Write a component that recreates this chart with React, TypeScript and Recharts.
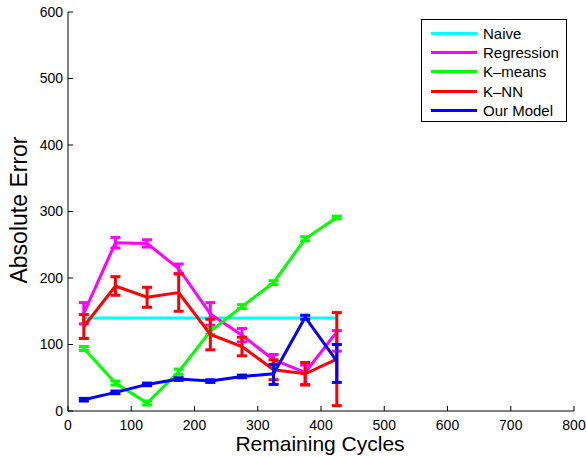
import React from 'react';
import { LineChart, Line, XAxis, YAxis, ErrorBar } from 'recharts';

// remaining cycles at which each method was evaluated
const cycles = [25, 75, 125, 175, 225, 275, 325, 375, 425];

const naive = [140, 140, 140, 140, 140, 140, 140, 140, 140];
const regression = [147, 253, 252, 214, 146, 114, 77, 58, 119];
const regressionErr = [16, 8, 5.5, 7, 17, 10, [7, 8], [18, 11], [29, 2]];
const kmeans = [94, 42, 12, 59, 120, 157, 193, 259, 291];
const kmeansErr = [3, 3, 3, 4, 5, 3, 3, 3, 2];
const knn = [127, 188, 171, 178, 115, 97, 62, 56, 78];
const knnErr = [18, 14, 15, 28, 23, 14, 15, 17, 70];
const model = [17, 28, 40, 48, 45, 52, 56, 141, 75];
const modelErr = [2, 2, 2, 2, 2, 2, [16, 14], 3, [32, 25]];

const xTicks = [0, 100, 200, 300, 400, 500, 600, 700, 800];
const yTicks = [0, 100, 200, 300, 400, 500, 600];

const series = [
  { key: 'naive', name: 'Naive', color: '#00ffff' },
  { key: 'regression', name: 'Regression', color: '#ff00ff', err: 'regressionErr' },
  { key: 'kmeans', name: 'K\u2013means', color: '#00ff00', err: 'kmeansErr' },
  { key: 'knn', name: 'K\u2013NN', color: '#ff0000', err: 'knnErr' },
  { key: 'model', name: 'Our Model', color: '#0000ff', err: 'modelErr' },
];

const data = cycles.map((c, i) => ({
  cycle: c,
  naive: naive[i],
  regression: regression[i],
  regressionErr: regressionErr[i],
  kmeans: kmeans[i],
  kmeansErr: kmeansErr[i],
  knn: knn[i],
  knnErr: knnErr[i],
  model: model[i],
  modelErr: modelErr[i],
}));

const FONT = '"Liberation Sans", Arial, Helvetica, sans-serif';

const BottomTick = ({ x, y, payload }: any) => (
  <g>
    <line x1={x} y1={y} x2={x} y2={y - 5} stroke="#000" />
    <text x={x} y={y + 19} textAnchor="middle" fontSize={14} fontFamily={FONT} fill="#000">
      {payload.value}
    </text>
  </g>
);

const LeftTick = ({ x, y, payload }: any) => (
  <g>
    <line x1={x} y1={y} x2={x + 5} y2={y} stroke="#000" />
    <text x={x - 5} y={y} dy="0.35em" textAnchor="end" fontSize={14} fontFamily={FONT} fill="#000">
      {payload.value}
    </text>
  </g>
);

const TopTick = ({ x, y }: any) => <line x1={x} y1={y} x2={x} y2={y + 5} stroke="#000" />;
const RightTick = ({ x, y }: any) => <line x1={x} y1={y} x2={x - 5} y2={y} stroke="#000" />;

export default function App() {
  return (
    <div style={{ position: 'absolute', left: 0, top: 0, width: 586, height: 457, background: '#fff', fontFamily: FONT }}>
      <LineChart width={586} height={457} data={data} margin={{ top: 12, right: 12, bottom: 0, left: 0 }}>
        <XAxis
          dataKey="cycle"
          type="number"
          domain={[0, 800]}
          ticks={xTicks}
          height={46}
          tickSize={0}
          tickMargin={0}
          tick={BottomTick}
          tickLine={false}
          axisLine={{ stroke: '#000' }}
          interval={0}
        />
        <XAxis
          xAxisId="top"
          orientation="top"
          type="number"
          domain={[0, 800]}
          ticks={xTicks}
          height={0}
          tickSize={0}
          tickMargin={0}
          tick={TopTick}
          tickLine={false}
          axisLine={{ stroke: '#000' }}
          interval={0}
          allowDataOverflow
        />
        <YAxis
          type="number"
          domain={[0, 600]}
          ticks={yTicks}
          width={68}
          tickSize={0}
          tickMargin={0}
          tick={LeftTick}
          tickLine={false}
          axisLine={{ stroke: '#000' }}
          interval={0}
        />
        <YAxis
          yAxisId="right"
          orientation="right"
          type="number"
          domain={[0, 600]}
          ticks={yTicks}
          width={0}
          tickSize={0}
          tickMargin={0}
          tick={RightTick}
          tickLine={false}
          axisLine={{ stroke: '#000' }}
          interval={0}
          allowDataOverflow
        />
        {series.map((s) => (
          <Line
            key={s.key}
            dataKey={s.key}
            stroke={s.color}
            strokeWidth={3}
            dot={false}
            activeDot={false}
            isAnimationActive={false}
            type="linear"
          >
            {s.err ? (
              <ErrorBar dataKey={s.err} direction="y" width={5} strokeWidth={3} stroke={s.color} />
            ) : null}
          </Line>
        ))}
      </LineChart>

      <div
        style={{
          position: 'absolute',
          left: 19,
          top: 210,
          transform: 'translate(-50%, -50%) rotate(-90deg)',
          whiteSpace: 'nowrap',
          fontSize: 23,
          color: '#000',
        }}
      >
        Absolute Error
      </div>
      <div
        style={{
          position: 'absolute',
          left: 320,
          top: 444,
          transform: 'translate(-50%, -50%)',
          whiteSpace: 'nowrap',
          fontSize: 21,
          color: '#000',
        }}
      >
        Remaining Cycles
      </div>

      <div
        style={{
          position: 'absolute',
          left: 421,
          top: 19,
          width: 146,
          height: 103,
          border: '1px solid #000',
          background: '#fff',
          boxSizing: 'border-box',
        }}
      >
        {series.map((s, i) => (
          <div
            key={s.key}
            style={{ position: 'absolute', left: 0, top: 4 + i * 19.2, height: 19, display: 'flex', alignItems: 'center' }}
          >
            <div style={{ marginLeft: 9, width: 46, height: 3, background: s.color }} />
            <span style={{ marginLeft: 6, fontSize: 15, color: '#000', whiteSpace: 'nowrap' }}>{s.name}</span>
          </div>
        ))}
      </div>
    </div>
  );
}
